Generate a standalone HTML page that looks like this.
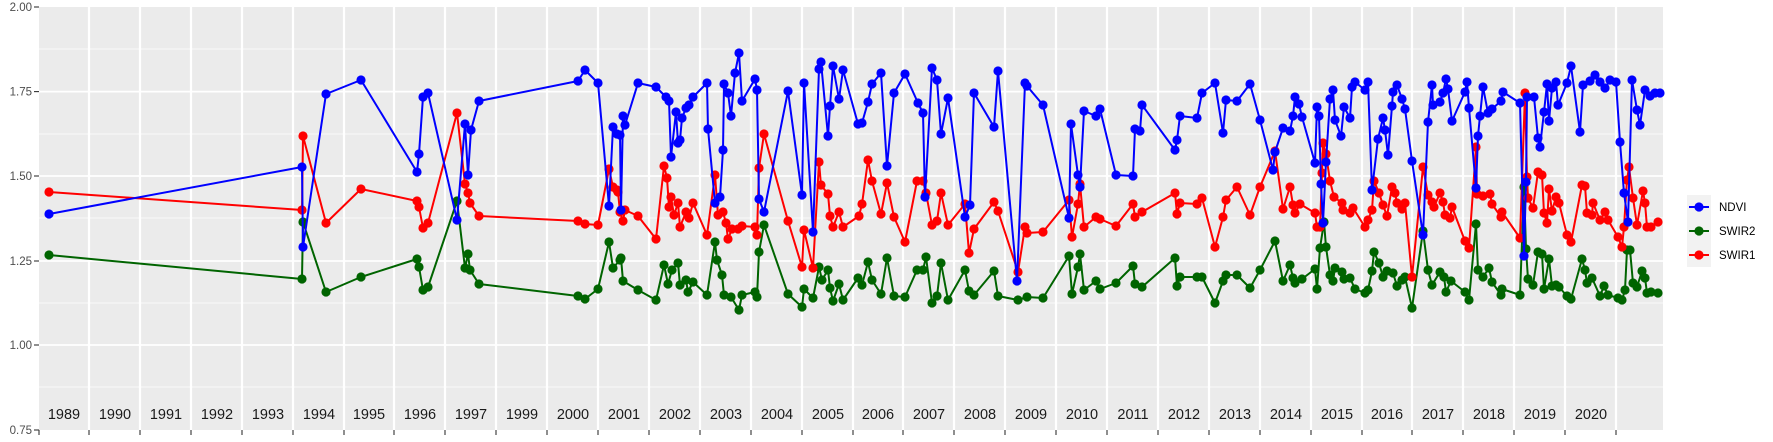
<!DOCTYPE html>
<html><head><meta charset="utf-8"><style>
html,body{margin:0;padding:0;background:#fff;width:1773px;height:442px;overflow:hidden}
svg{display:block;font-family:"Liberation Sans",sans-serif}
</style></head><body>
<svg width="1773" height="442" viewBox="0 0 1773 442" xmlns="http://www.w3.org/2000/svg">
<defs>
<marker id="mb" markerUnits="userSpaceOnUse" markerWidth="12" markerHeight="12" refX="6" refY="6"><circle cx="6" cy="6" r="4.6" fill="#0000ff"/></marker>
<marker id="mg" markerUnits="userSpaceOnUse" markerWidth="12" markerHeight="12" refX="6" refY="6"><circle cx="6" cy="6" r="4.6" fill="#006400"/></marker>
<marker id="mr" markerUnits="userSpaceOnUse" markerWidth="12" markerHeight="12" refX="6" refY="6"><circle cx="6" cy="6" r="4.6" fill="#ff0000"/></marker>
</defs>
<rect x="39" y="7" width="1624" height="423" fill="#ebebeb"/>
<g stroke="#fff" stroke-width="0.8">
<line x1="39" x2="1663" y1="49" y2="49"/><line x1="39" x2="1663" y1="134" y2="134"/><line x1="39" x2="1663" y1="218" y2="218"/><line x1="39" x2="1663" y1="303" y2="303"/><line x1="39" x2="1663" y1="387" y2="387"/>
</g>
<g stroke="#fff" stroke-width="1.7">
<line x1="39" x2="1663" y1="91.6" y2="91.6"/><line x1="39" x2="1663" y1="176" y2="176"/><line x1="39" x2="1663" y1="261" y2="261"/><line x1="39" x2="1663" y1="345" y2="345"/>
</g>
<g stroke="#fff" stroke-width="2.2" id="vg">
<line x1="89" x2="89" y1="7" y2="430"/><line x1="140" x2="140" y1="7" y2="430"/><line x1="191" x2="191" y1="7" y2="430"/><line x1="242" x2="242" y1="7" y2="430"/><line x1="293" x2="293" y1="7" y2="430"/><line x1="344" x2="344" y1="7" y2="430"/><line x1="394" x2="394" y1="7" y2="430"/><line x1="445" x2="445" y1="7" y2="430"/><line x1="496" x2="496" y1="7" y2="430"/><line x1="547" x2="547" y1="7" y2="430"/><line x1="598" x2="598" y1="7" y2="430"/><line x1="649" x2="649" y1="7" y2="430"/><line x1="700" x2="700" y1="7" y2="430"/><line x1="751" x2="751" y1="7" y2="430"/><line x1="802" x2="802" y1="7" y2="430"/><line x1="853" x2="853" y1="7" y2="430"/><line x1="903" x2="903" y1="7" y2="430"/><line x1="954" x2="954" y1="7" y2="430"/><line x1="1005" x2="1005" y1="7" y2="430"/><line x1="1056" x2="1056" y1="7" y2="430"/><line x1="1107" x2="1107" y1="7" y2="430"/><line x1="1158" x2="1158" y1="7" y2="430"/><line x1="1209" x2="1209" y1="7" y2="430"/><line x1="1260" x2="1260" y1="7" y2="430"/><line x1="1311" x2="1311" y1="7" y2="430"/><line x1="1362" x2="1362" y1="7" y2="430"/><line x1="1412" x2="1412" y1="7" y2="430"/><line x1="1463" x2="1463" y1="7" y2="430"/><line x1="1514" x2="1514" y1="7" y2="430"/><line x1="1565" x2="1565" y1="7" y2="430"/><line x1="1616" x2="1616" y1="7" y2="430"/>
</g>
<g stroke="#333" stroke-width="1.1">
<line x1="34" x2="39" y1="7" y2="7"/><line x1="34" x2="39" y1="91.6" y2="91.6"/><line x1="34" x2="39" y1="176" y2="176"/><line x1="34" x2="39" y1="261" y2="261"/><line x1="34" x2="39" y1="345" y2="345"/><line x1="34" x2="39" y1="430" y2="430"/>
<line x1="39" x2="39" y1="430" y2="435"/><line x1="89" x2="89" y1="430" y2="435"/><line x1="140" x2="140" y1="430" y2="435"/><line x1="191" x2="191" y1="430" y2="435"/><line x1="242" x2="242" y1="430" y2="435"/><line x1="293" x2="293" y1="430" y2="435"/><line x1="344" x2="344" y1="430" y2="435"/><line x1="394" x2="394" y1="430" y2="435"/><line x1="445" x2="445" y1="430" y2="435"/><line x1="496" x2="496" y1="430" y2="435"/><line x1="547" x2="547" y1="430" y2="435"/><line x1="598" x2="598" y1="430" y2="435"/><line x1="649" x2="649" y1="430" y2="435"/><line x1="700" x2="700" y1="430" y2="435"/><line x1="751" x2="751" y1="430" y2="435"/><line x1="802" x2="802" y1="430" y2="435"/><line x1="853" x2="853" y1="430" y2="435"/><line x1="903" x2="903" y1="430" y2="435"/><line x1="954" x2="954" y1="430" y2="435"/><line x1="1005" x2="1005" y1="430" y2="435"/><line x1="1056" x2="1056" y1="430" y2="435"/><line x1="1107" x2="1107" y1="430" y2="435"/><line x1="1158" x2="1158" y1="430" y2="435"/><line x1="1209" x2="1209" y1="430" y2="435"/><line x1="1260" x2="1260" y1="430" y2="435"/><line x1="1311" x2="1311" y1="430" y2="435"/><line x1="1362" x2="1362" y1="430" y2="435"/><line x1="1412" x2="1412" y1="430" y2="435"/><line x1="1463" x2="1463" y1="430" y2="435"/><line x1="1514" x2="1514" y1="430" y2="435"/><line x1="1565" x2="1565" y1="430" y2="435"/><line x1="1616" x2="1616" y1="430" y2="435"/>
</g>
<g fill="#4d4d4d" font-size="11.5" text-anchor="end">
<text x="32" y="11">2.00</text><text x="32" y="95.6">1.75</text><text x="32" y="180">1.50</text><text x="32" y="265">1.25</text><text x="32" y="349">1.00</text><text x="32" y="434">0.75</text>
</g>
<g fill="#1a1a1a" font-size="14.5" text-anchor="middle">
<text x="64" y="419">1989</text><text x="115" y="419">1990</text><text x="166" y="419">1991</text><text x="217" y="419">1992</text><text x="268" y="419">1993</text><text x="319" y="419">1994</text><text x="369" y="419">1995</text><text x="420" y="419">1996</text><text x="471" y="419">1997</text><text x="522" y="419">1999</text><text x="573" y="419">2000</text><text x="624" y="419">2001</text><text x="675" y="419">2002</text><text x="726" y="419">2003</text><text x="777" y="419">2004</text><text x="828" y="419">2005</text><text x="878" y="419">2006</text><text x="929" y="419">2007</text><text x="980" y="419">2008</text><text x="1031" y="419">2009</text><text x="1082" y="419">2010</text><text x="1133" y="419">2011</text><text x="1184" y="419">2012</text><text x="1235" y="419">2013</text><text x="1286" y="419">2014</text><text x="1337" y="419">2015</text><text x="1387" y="419">2016</text><text x="1438" y="419">2017</text><text x="1489" y="419">2018</text><text x="1540" y="419">2019</text><text x="1591" y="419">2020</text>
</g>
<g fill="none" stroke-width="2" stroke-linejoin="round">
<polyline stroke="#006400" marker-start="url(#mg)" marker-mid="url(#mg)" marker-end="url(#mg)" points="49,255 302,279 303,222 326,292 361,277 417,259 419,267 423,290 428,287 457,201 465,268 468,254 470,270 479,284 578,296 585,299 598,289 609,242 613,268 620,260 621,258 623,281 638,290 656,300 664,265 668,284 672,270 678,263 680,285 686,280 688,292 693,282 707,295 715,242 717,260 722,275 724,295 731,297 739,310 742,295 755,292 757,297 759,252 764,225 788,294 802,307 804,289 813,298 819,267 822,280 828,270 830,288 833,301 839,284 843,300 858,278 862,285 868,262 872,280 881,294 887,258 894,296 905,297 917,270 923,270 926,257 932,303 937,296 941,263 948,300 965,270 969,291 974,295 994,271 998,296 1018,300 1027,297 1043,298 1069,256 1072,294 1078,267 1080,254 1084,290 1096,281 1100,289 1116,283 1133,266 1135,284 1142,287 1175,258 1177,286 1180,277 1197,277 1202,277 1215,303 1223,281 1226,275 1237,275 1250,288 1260,270 1275,241 1283,281 1290,265 1293,278 1295,283 1302,279 1315,269 1317,289 1320,248 1324,222 1326,247 1330,275 1333,281 1335,268 1342,272 1344,279 1350,278 1355,289 1365,293 1368,290 1372,271 1374,252 1379,263 1383,277 1387,271 1393,273 1397,286 1402,280 1405,277 1412,308 1423,231 1428,270 1432,285 1440,272 1444,277 1446,292 1451,281 1465,292 1469,300 1476,224 1478,270 1483,277 1489,268 1492,282 1501,295 1502,289 1520,295 1524,187 1526,249 1528,279 1533,285 1538,252 1542,254 1544,289 1549,259 1552,286 1556,285 1559,287 1567,296 1571,299 1582,259 1585,270 1587,283 1592,278 1600,296 1604,286 1608,295 1618,298 1622,300 1625,290 1627,250 1630,250 1633,283 1637,287 1642,271 1645,278 1647,293 1651,292 1658,293"/>
<polyline stroke="#ff0000" marker-start="url(#mr)" marker-mid="url(#mr)" marker-end="url(#mr)" points="49,192 302,210 303,136 326,223 361,189 417,201 419,207 423,228 428,223 457,113 465,184 468,193 470,203 479,216 578,221 585,224 598,225 609,169 613,187 617,190 618,192 620,212 623,221 625,210 638,216 656,239 664,166 667,178 669,207 671,197 674,215 678,203 680,227 686,212 689,218 693,203 707,235 715,175 718,215 723,212 726,223 728,239 732,229 738,229 742,226 755,227 757,235 759,168 764,134 788,221 802,267 804,230 813,268 819,162 821,185 828,194 830,216 833,227 839,212 843,227 859,216 862,204 868,160 872,181 881,214 887,183 894,217 905,242 917,181 923,181 926,193 932,225 937,221 941,193 948,225 965,204 969,253 974,229 994,202 998,211 1018,272 1025,227 1027,233 1043,232 1069,200 1072,237 1078,204 1080,184 1084,227 1096,217 1100,219 1116,226 1133,204 1135,217 1142,212 1175,193 1177,214 1180,203 1197,204 1202,198 1215,247 1223,217 1226,200 1237,187 1250,215 1260,187 1275,151 1283,209 1290,187 1293,205 1295,213 1300,204 1315,213 1317,227 1320,227 1322,173 1323,143 1326,154 1330,181 1334,197 1342,203 1343,210 1350,213 1353,208 1365,227 1368,220 1372,210 1374,181 1379,193 1383,205 1387,216 1392,187 1395,193 1397,203 1402,209 1405,203 1412,277 1423,167 1428,195 1432,202 1434,207 1440,193 1443,202 1445,215 1450,218 1452,207 1465,241 1469,248 1476,147 1477,194 1483,196 1490,194 1492,204 1501,217 1502,212 1520,238 1525,93 1527,177 1528,198 1533,208 1538,172 1542,175 1544,213 1547,223 1549,189 1552,211 1556,197 1559,203 1567,235 1571,242 1582,185 1585,186 1587,213 1592,215 1593,203 1600,220 1605,212 1608,220 1618,237 1622,247 1624,227 1627,180 1629,167 1633,198 1637,225 1643,191 1645,203 1647,227 1651,227 1658,222"/>
<polyline stroke="#0000ff" marker-start="url(#mb)" marker-mid="url(#mb)" marker-end="url(#mb)" points="49,214 302,167 303,247 326,94 361,80 417,172 419,154 423,97 428,93 457,220 465,124 468,175 471,130 479,101 578,81 585,70 598,83 609,206 613,127 617,134 620,135 621,210 623,116 625,125 638,83 656,87 666,97 669,101 671,157 676,112 678,143 680,140 682,118 686,108 689,105 693,97 707,83 708,129 715,203 720,197 723,150 724,84 728,93 731,116 735,73 739,53 742,101 755,79 757,90 759,199 764,212 788,91 802,195 804,83 813,232 819,69 821,62 828,136 830,106 833,66 839,99 843,70 858,124 862,123 868,102 872,84 881,73 887,166 894,93 905,74 918,103 923,113 925,197 932,68 937,80 941,134 948,98 965,217 970,205 974,93 994,127 998,71 1017,281 1025,83 1027,86 1043,105 1069,218 1071,124 1078,175 1080,187 1084,111 1096,116 1100,109 1116,175 1133,176 1135,129 1140,131 1142,105 1175,150 1177,140 1180,116 1197,118 1202,93 1215,83 1223,133 1226,100 1237,101 1250,84 1260,120 1273,170 1275,152 1283,128 1290,131 1293,116 1295,97 1299,104 1302,117 1315,163 1317,107 1319,116 1321,184 1323,223 1326,162 1330,99 1333,90 1335,120 1341,136 1344,107 1350,118 1352,87 1355,82 1365,90 1368,82 1372,190 1378,139 1383,118 1385,130 1388,155 1392,106 1393,92 1397,85 1402,99 1405,109 1412,161 1423,235 1428,122 1432,85 1433,105 1440,102 1443,93 1446,79 1448,89 1452,121 1465,92 1467,82 1469,108 1476,188 1478,136 1480,116 1483,87 1488,113 1492,109 1501,101 1503,92 1520,103 1524,256 1526,182 1527,97 1534,97 1538,138 1540,147 1544,112 1547,84 1549,121 1552,88 1556,82 1558,105 1567,83 1571,66 1580,132 1583,85 1590,81 1595,75 1600,82 1605,88 1610,80 1616,82 1620,142 1624,193 1628,222 1632,80 1637,110 1640,125 1645,90 1650,96 1655,93 1660,93"/>
</g>
<rect x="1672" y="184" width="56" height="82" fill="#fff"/>
<rect x="1687" y="195" width="24" height="72" fill="#f2f2f2"/>
<g stroke-width="2">
<line x1="1689" x2="1709" y1="207" y2="207" stroke="#0000ff"/><circle cx="1699" cy="207" r="4.6" fill="#0000ff"/>
<line x1="1689" x2="1709" y1="231" y2="231" stroke="#006400"/><circle cx="1699" cy="231" r="4.6" fill="#006400"/>
<line x1="1689" x2="1709" y1="255" y2="255" stroke="#ff0000"/><circle cx="1699" cy="255" r="4.6" fill="#ff0000"/>
</g>
<g fill="#000" font-size="11.5">
<text x="1719" y="211">NDVI</text><text x="1719" y="235">SWIR2</text><text x="1719" y="259">SWIR1</text>
</g>
</svg>
</body></html>
